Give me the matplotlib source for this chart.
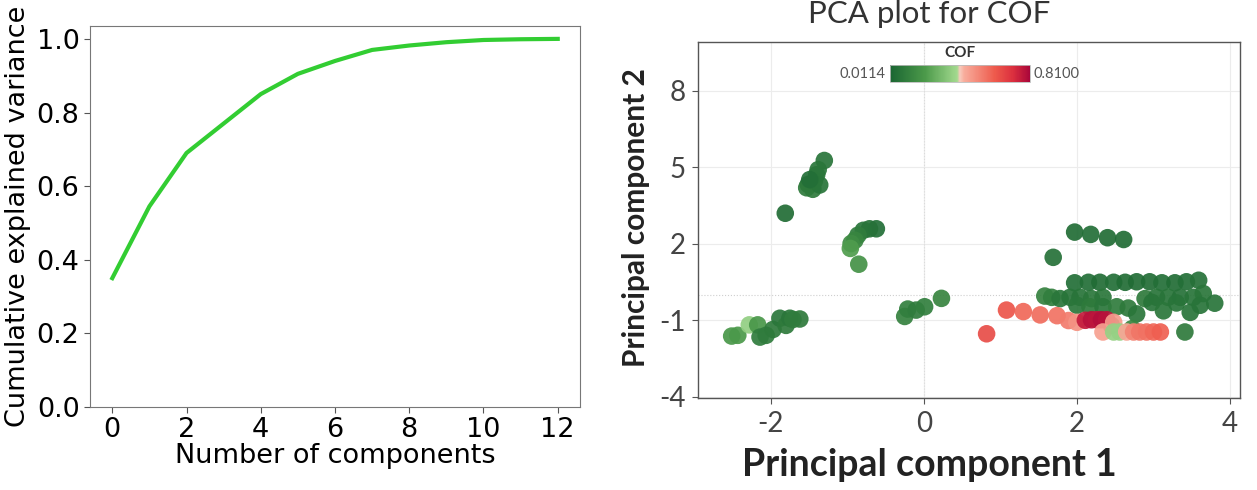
import numpy as np
import matplotlib.pyplot as plt
from matplotlib.colors import LinearSegmentedColormap

# Left panel: cumulative explained variance
n_components = [0, 1, 2, 3, 4, 5, 6, 7, 8, 9, 10, 11, 12]
cum_var = [0.35, 0.545, 0.69, 0.77, 0.85, 0.905, 0.94, 0.97, 0.982, 0.991, 0.997, 0.999, 1.0]

# Right panel: PCA scores coloured by COF
pc1 = [
    # upper-left cluster
    -1.30, -1.38, -1.40, -1.51, -1.53, -1.45, -1.36, -1.43, -1.49, -1.81,
    # middle cluster
    -0.62, -0.71, -0.79, -0.86, -0.90, -0.95, -0.96, -0.85,
    # lower-left cluster
    -2.51, -2.43, -2.28, -2.17, -2.14, -2.06, -1.97, -1.88, -1.80, -1.75, -1.62, -1.71,
    # near origin
    -0.25, -0.21, -0.10, 0.01, 0.23,
    # right cluster, green
    1.97, 2.18, 2.40, 2.61, 1.69,
    1.97, 2.15, 2.30, 2.48, 2.63, 2.78, 2.95, 3.11, 3.28, 3.43, 3.59,
    1.58, 1.67, 1.78, 1.91, 2.04, 2.19, 2.34, 2.89, 3.04, 3.19, 3.35, 3.52, 3.65,
    2.00, 2.17, 2.34, 2.52, 2.67, 2.78, 2.98, 3.13, 3.30, 3.48, 3.61, 3.80,
    3.41, 2.45, 2.72,
    # right cluster, red
    0.82, 1.08, 1.30, 1.52, 1.74, 1.89, 2.00,
    2.11, 2.19, 2.26, 2.32, 2.39, 2.48,
    2.34, 2.48, 2.56, 2.65, 2.74, 2.82, 2.91, 3.00, 3.09,
]
pc2 = [
    5.27, 4.91, 4.71, 4.33, 4.20, 4.14, 4.31, 4.46, 4.52, 3.20,
    2.59, 2.59, 2.53, 2.34, 2.14, 2.01, 1.82, 1.20,
    -1.62, -1.59, -1.18, -1.18, -1.66, -1.59, -1.36, -0.92, -1.20, -0.92, -0.95, -0.97,
    -0.85, -0.56, -0.60, -0.47, -0.14,
    2.46, 2.37, 2.24, 2.17, 1.47,
    0.47, 0.49, 0.49, 0.49, 0.49, 0.51, 0.51, 0.47, 0.47, 0.51, 0.57,
    -0.05, -0.10, -0.15, -0.10, -0.10, -0.15, -0.10, -0.15, -0.10, -0.10, -0.10, -0.10, 0.05,
    -0.41, -0.47, -0.47, -0.47, -0.52, -0.75, -0.30, -0.63, -0.32, -0.69, -0.41, -0.33,
    -1.46, -1.20, -1.33,
    -1.53, -0.60, -0.66, -0.79, -0.82, -1.01, -1.08,
    -1.00, -0.98, -0.98, -0.98, -0.98, -1.08,
    -1.46, -1.46, -1.46, -1.46, -1.46, -1.46, -1.46, -1.46, -1.46,
]
cof = [
    0.07, 0.08, 0.08, 0.03, 0.09, 0.09, 0.07, 0.08, 0.05, 0.04,
    0.05, 0.06, 0.07, 0.10, 0.13, 0.16, 0.22, 0.18,
    0.20, 0.21, 0.36, 0.20, 0.10, 0.10, 0.09, 0.08, 0.09, 0.08, 0.09, 0.10,
    0.12, 0.11, 0.10, 0.11, 0.13,
    0.04, 0.05, 0.04, 0.04, 0.06,
    0.05, 0.05, 0.04, 0.05, 0.04, 0.04, 0.04, 0.05, 0.04, 0.05, 0.06,
    0.12, 0.11, 0.08, 0.07, 0.07, 0.08, 0.08, 0.09, 0.07, 0.07, 0.06, 0.07, 0.08,
    0.08, 0.09, 0.08, 0.10, 0.09, 0.08, 0.07, 0.08, 0.07, 0.07, 0.07, 0.07,
    0.09, 0.12, 0.13,
    0.64, 0.62, 0.58, 0.57, 0.56, 0.54, 0.49,
    0.76, 0.78, 0.77, 0.79, 0.78, 0.47,
    0.46, 0.37, 0.37, 0.45, 0.52, 0.55, 0.56, 0.58, 0.60,
]
cof_min, cof_max = 0.0114, 0.8100

x_ticks = [-2, 0, 2, 4]
y_ticks = [-4, -1, 2, 5, 8]

cof_cmap = LinearSegmentedColormap.from_list('cof', [
    (0.0, '#1a6532'), (0.25, '#4c9a4a'), (0.48, '#a3da8f'), (0.5, '#f7c9bb'),
    (0.53, '#f8ad9c'), (0.75, '#ee5a4c'), (0.88, '#db2f3e'), (1.0, '#a9063a'),
])

fig = plt.figure(figsize=(12.57, 4.9), dpi=100)
W, H = 1257, 490

# ---- left panel ----
ax1 = fig.add_axes([90 / W, (H - 407) / H, 490 / W, 381 / H])
ax1.plot(n_components, cum_var, color='#32cd32', lw=3)
ax1.set_ylim(0, 1.035)
ax1.set_xticks([0, 2, 4, 6, 8, 10, 12])
ax1.set_yticks([0.0, 0.2, 0.4, 0.6, 0.8, 1.0])
ax1.tick_params(labelsize=19.5, length=4, color='#555')
ax1.set_xlabel('Number of components', fontsize=19.5, labelpad=0)
ax1.set_ylabel('Cumulative explained variance', fontsize=19.5, labelpad=4)
for s in ax1.spines.values():
    s.set_color('#777')

# ---- right panel ----
ax2 = fig.add_axes([698 / W, (H - 398) / H, 542 / W, 356 / H])
ax2.set_xlim(-2.95, 4.13)
ax2.set_ylim(-4.05, 9.92)
for v in x_ticks:
    ax2.axvline(v, color='#ececec', lw=0.8, zorder=0)
for v in y_ticks:
    ax2.axhline(v, color='#ececec', lw=0.8, zorder=0)
ax2.axhline(0, color='#cfcfcf', lw=0.8, ls=':', zorder=0)
ax2.axvline(0, color='#dcdcdc', lw=0.8, ls=':', zorder=0)

sc = ax2.scatter(pc1, pc2, c=cof, cmap=cof_cmap, vmin=cof_min, vmax=cof_max,
                 s=160, alpha=0.92, linewidths=0, zorder=3)
ax2.set_xticks(x_ticks)
ax2.set_yticks(y_ticks)
ax2.set_xticklabels([str(v) for v in x_ticks], family='Lato', fontsize=20, color='#444')
ax2.set_yticklabels([str(v) for v in y_ticks], family='Lato', fontsize=20, color='#444')
ax2.tick_params(length=4, color='#555', pad=5)
for s in ax2.spines.values():
    s.set_color('#555')
    s.set_linewidth(1.0)

fig.text(929 / W, 1 - 14 / H, 'PCA plot for COF', ha='center', va='center',
         family='Lato', fontsize=22.5, color='#333')
fig.text(929 / W, 1 - 465 / H, 'Principal component 1', ha='center', va='center',
         family='Lato', fontsize=27, fontweight='bold', color='#222')
fig.text(636 / W, 1 - 218 / H, 'Principal component 2', ha='center', va='center',
         rotation=90, family='Lato', fontsize=21.5, fontweight='bold', color='#222')

# colorbar inside the plot
cax = fig.add_axes([890 / W, (H - 82) / H, 140 / W, 17 / H])
cb = fig.colorbar(sc, cax=cax, orientation='horizontal')
cb.solids.set_alpha(1)
cb.set_ticks([])
cb.outline.set_edgecolor('#bbbbbb')
cb.outline.set_linewidth(0.6)
fig.text(960 / W, 1 - 53 / H, 'COF', ha='center', va='center',
         family='Lato', fontsize=11, fontweight='bold', color='#333')
fig.text(886 / W, 1 - 74 / H, '%.4f' % cof_min, ha='right', va='center',
         family='Lato', fontsize=10.5, color='#555')
fig.text(1033 / W, 1 - 74 / H, '%.4f' % cof_max, ha='left', va='center',
         family='Lato', fontsize=10.5, color='#555')

fig.savefig('out.png', dpi=100)
